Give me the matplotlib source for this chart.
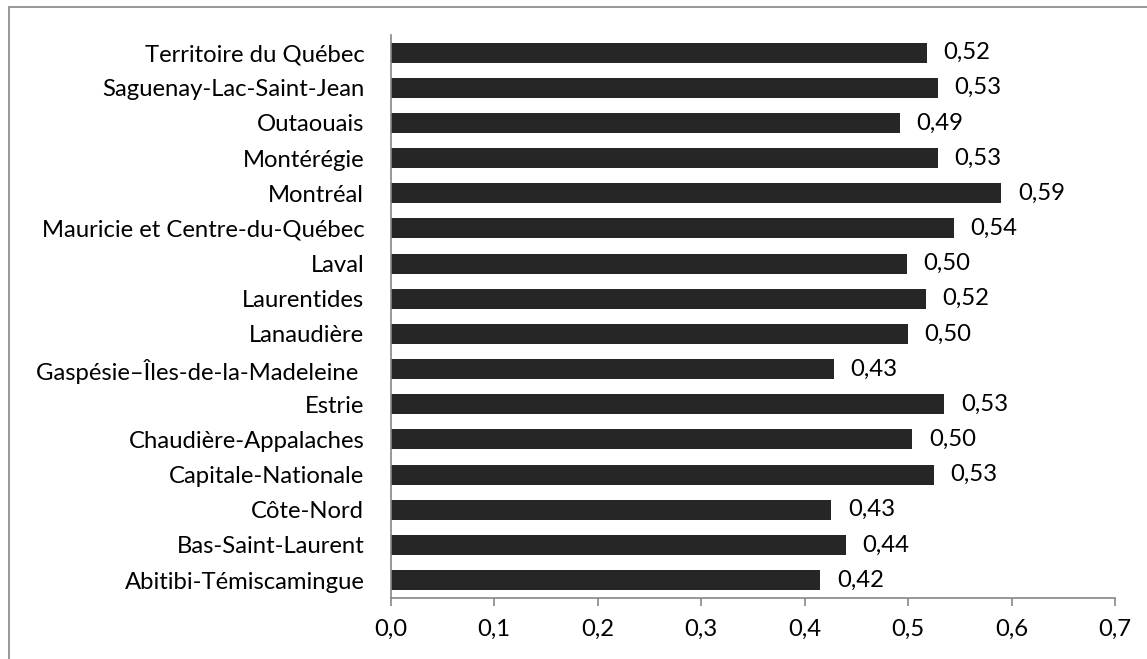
import matplotlib.pyplot as plt
from matplotlib.patches import Rectangle

regions = [
    "Abitibi-Témiscamingue",
    "Bas-Saint-Laurent",
    "Côte-Nord",
    "Capitale-Nationale",
    "Chaudière-Appalaches",
    "Estrie",
    "Gaspésie–Îles-de-la-Madeleine ",
    "Lanaudière",
    "Laurentides",
    "Laval",
    "Mauricie et Centre-du-Québec",
    "Montréal",
    "Montérégie",
    "Outaouais",
    "Saguenay-Lac-Saint-Jean",
    "Territoire du Québec",
]
values = [0.415, 0.440, 0.426, 0.525, 0.504, 0.535, 0.428, 0.500,
          0.517, 0.499, 0.544, 0.590, 0.529, 0.492, 0.529, 0.518]
value_labels = ["0,42", "0,44", "0,43", "0,53", "0,50", "0,53", "0,43", "0,50",
                "0,52", "0,50", "0,54", "0,59", "0,53", "0,49", "0,53", "0,52"]
xticks = [0.0, 0.1, 0.2, 0.3, 0.4, 0.5, 0.6, 0.7]
xtick_labels = ["0,0", "0,1", "0,2", "0,3", "0,4", "0,5", "0,6", "0,7"]

FONT = "Lato"
FS = 17.2
AXIS = "#868686"
BAR = "#262626"

plt.rcParams["font.family"] = [FONT, "DejaVu Sans"]

fig = plt.figure(figsize=(11.47, 6.59), dpi=100)
fig.patches.append(Rectangle((9 / 1147, -0.1), 1.2, 1 - 6.5 / 659 + 0.1,
                             transform=fig.transFigure, fill=False,
                             edgecolor=AXIS, linewidth=1.2))
ax = fig.add_axes([390.7 / 1147, 1 - 597.7 / 659, (1115 - 390.7) / 1147, (597.7 - 35) / 659])

ypos = list(range(len(regions)))
ax.barh(ypos, values, height=0.57, color=BAR, edgecolor="none")
for y, v, s in zip(ypos, values, value_labels):
    ax.annotate(s, (v, y), xytext=(12, 0), textcoords="offset points",
                ha="left", va="center", fontsize=FS, color="black")

ax.set_xlim(0, 0.7)
ax.set_ylim(-0.5, len(regions) - 0.5)
ax.set_yticks(ypos)
ax.set_yticklabels(regions, fontsize=FS)
ax.set_xticks(xticks)
ax.set_xticklabels(xtick_labels, fontsize=FS)
ax.tick_params(axis="y", length=0, pad=19)
ax.tick_params(axis="x", length=6, width=1.2, color=AXIS, pad=9, direction="out")

for side in ["top", "right"]:
    ax.spines[side].set_visible(False)
for side in ["left", "bottom"]:
    ax.spines[side].set_color(AXIS)
    ax.spines[side].set_linewidth(1.2)

fig.savefig("out.png", dpi=100)
